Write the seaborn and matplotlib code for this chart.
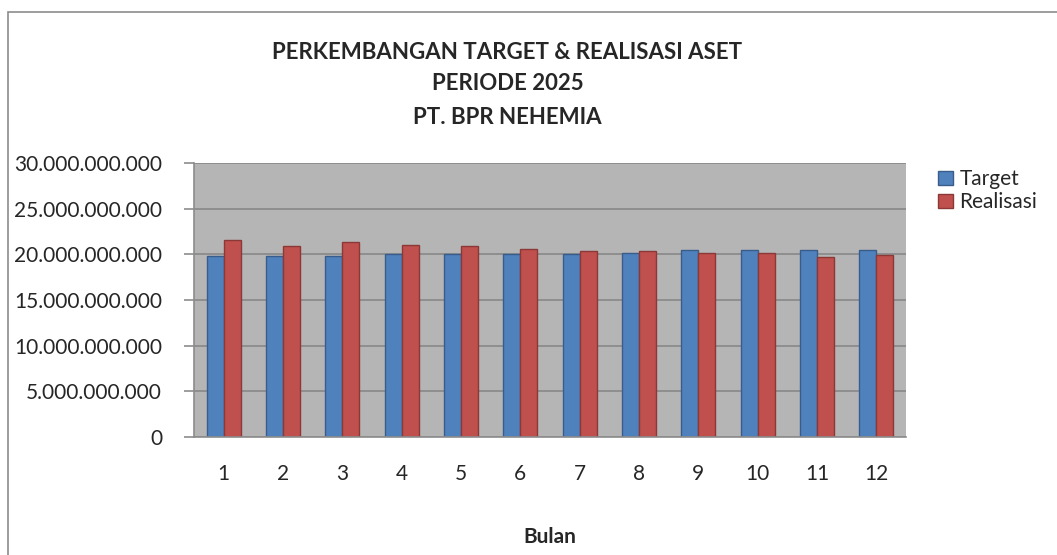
import matplotlib
matplotlib.use("Agg")
import matplotlib.pyplot as plt
import matplotlib.ticker as mticker
from matplotlib.patches import Patch, Rectangle
import numpy as np
import pandas as pd
import seaborn as sns

# data (rupiah)
bulan = [1, 2, 3, 4, 5, 6, 7, 8, 9, 10, 11, 12]
target = [19.85e9, 19.85e9, 19.85e9, 20.0e9, 20.0e9, 20.0e9,
          20.0e9, 20.15e9, 20.47e9, 20.47e9, 20.47e9, 20.47e9]
realisasi = [21.54e9, 20.91e9, 21.38e9, 21.02e9, 20.91e9, 20.58e9,
             20.36e9, 20.36e9, 20.15e9, 20.15e9, 19.74e9, 19.89e9]
series = ["Target", "Realisasi"]

COLORS = {"Target": "#4F81BD", "Realisasi": "#C0504D"}
EDGES = {"Target": "#385D8A", "Realisasi": "#8C3836"}

df = pd.DataFrame({
    "Bulan": bulan * 2,
    "Nilai": target + realisasi,
    "Seri": [series[0]] * len(bulan) + [series[1]] * len(bulan),
})

sns.set_style("white")
plt.rcParams["font.family"] = ["Lato", "DejaVu Sans"]

fig = plt.figure(figsize=(10.57, 5.55), dpi=100)
ax = fig.add_axes([194 / 1057, 118 / 555, 712 / 1057, 274 / 555])

sns.barplot(data=df, x="Bulan", y="Nilai", hue="Seri", palette=COLORS,
            width=0.57, ax=ax, legend=False, saturation=1)

# darker edge per series, like the office chart
for container, name in zip(ax.containers, series):
    for bar in container:
        bar.set_edgecolor(EDGES[name])
        bar.set_linewidth(1.0)

ax.set_facecolor("#B5B5B5")
ax.set_ylim(0, 30e9)
ax.set_xlim(-0.5, 11.5)
ax.yaxis.set_major_locator(mticker.MultipleLocator(5e9))
ax.yaxis.set_major_formatter(
    mticker.FuncFormatter(lambda v, p: f"{int(round(v)):,}".replace(",", ".")))
ax.grid(axis="y", color="#8C8C8C", linewidth=1.3)
ax.set_axisbelow(True)

for side in ["top", "right"]:
    ax.spines[side].set_visible(False)
for side in ["left", "bottom"]:
    ax.spines[side].set_color("#8C8C8C")
    ax.spines[side].set_linewidth(1.2)

# x tick marks between categories
ax.set_xticks(np.arange(-0.5, 12, 1), minor=True)
ax.tick_params(axis="x", which="major", length=0, pad=19.5, labelsize=15)
ax.tick_params(axis="x", which="minor", length=8, color="#8C8C8C", width=1.2)
ax.tick_params(axis="y", length=7, color="#8C8C8C", width=1.2, pad=16,
               labelsize=15, left=True)

ax.set_ylabel("")
ax.set_xlabel("Bulan", fontsize=15, fontweight="bold", labelpad=31)

fig.text(0.48, 0.906, "PERKEMBANGAN TARGET & REALISASI ASET",
         ha="center", va="center", fontsize=16, fontweight="bold")
fig.text(0.48, 0.849, "PERIODE 2025",
         ha="center", va="center", fontsize=16, fontweight="bold")
fig.text(0.48, 0.789, "PT. BPR NEHEMIA",
         ha="center", va="center", fontsize=16, fontweight="bold")

handles = [Patch(facecolor=COLORS[s], edgecolor=EDGES[s], label=s) for s in series]
fig.legend(handles=handles, loc="upper left", bbox_to_anchor=(0.88, 0.71),
           frameon=False, fontsize=15, handlelength=0.7, handleheight=0.7,
           handletextpad=0.3, labelspacing=0.15, borderaxespad=0)

# outer chart border
fig.patches.append(Rectangle((8 / 1057, -0.1), 1.1, (555 - 12) / 555 + 0.1,
                             transform=fig.transFigure, fill=False,
                             edgecolor="#8C8C8C", linewidth=1.2))

fig.savefig("out.png", dpi=100)
